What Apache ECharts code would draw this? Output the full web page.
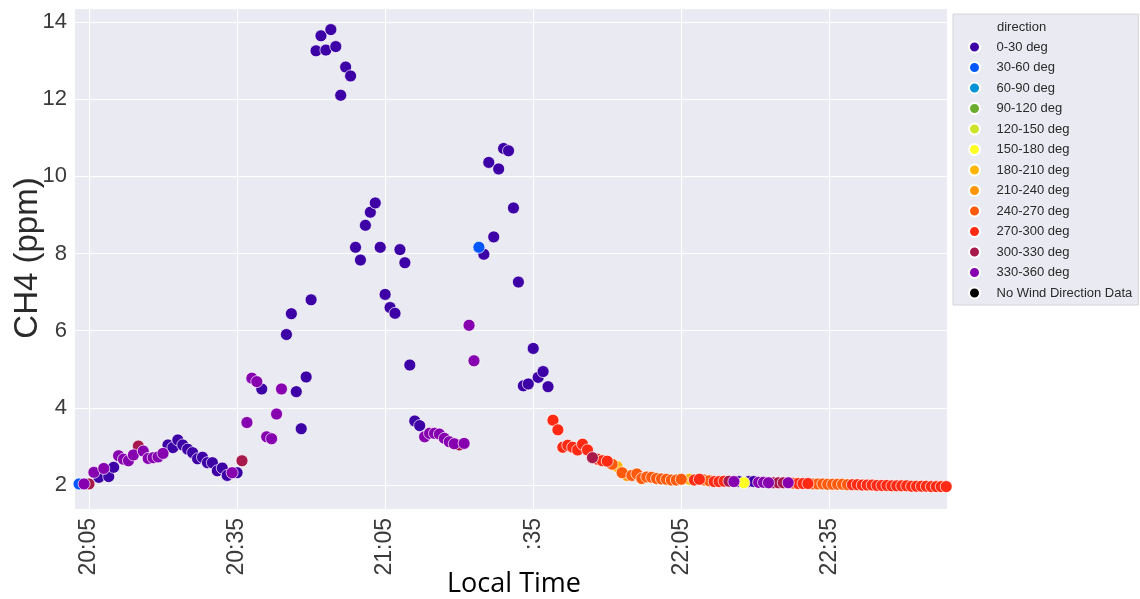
<!DOCTYPE html>
<html>
<head>
<meta charset="utf-8">
<title>CH4 vs Local Time</title>
<script src="https://cdn.jsdelivr.net/npm/echarts@6/dist/echarts.min.js"></script>
<style>
  html, body { margin: 0; padding: 0; background: #ffffff; }
  #chart { width: 1140px; height: 599px; }
</style>
</head>
<body>
<div id="chart"></div>
<script>
// Wind-direction classes (legend order) and their marker colours
const DIRECTIONS = ['0-30 deg', '30-60 deg', '60-90 deg', '90-120 deg', '120-150 deg',
  '150-180 deg', '180-210 deg', '210-240 deg', '240-270 deg', '270-300 deg',
  '300-330 deg', '330-360 deg', 'No Wind Direction Data'];
const DIR_COLORS = ['#3d00a6', '#0057ff', '#0093d6', '#6aad2e', '#cde32a',
  '#ffff24', '#ffb400', '#ff9500', '#ff5a0c', '#ff2914',
  '#a8194b', '#8600b0', '#000000'];

// Sample times (local), CH4 (ppm) and wind-direction class index
const TIMES = [
  '20:03','20:04','20:05','20:06','20:07','20:08','20:09','20:10','20:11','20:12',
  '20:13','20:14','20:15','20:16','20:17','20:18','20:19','20:20','20:21','20:22',
  '20:23','20:24','20:25','20:26','20:27','20:28','20:29','20:30','20:31','20:32',
  '20:33','20:34','20:35','20:36','20:37','20:38','20:39','20:40','20:41','20:42',
  '20:43','20:44','20:45','20:46','20:47','20:48','20:49','20:50','20:51','20:52',
  '20:53','20:54','20:55','20:56','20:57','20:58','20:59','21:00','21:01','21:02',
  '21:03','21:04','21:05','21:06','21:07','21:08','21:09','21:10','21:11','21:12',
  '21:13','21:14','21:15','21:16','21:17','21:18','21:19','21:20','21:21','21:22',
  '21:23','21:24','21:25','21:26','21:27','21:28','21:29','21:30','21:31','21:32',
  '21:33','21:34','21:35','21:36','21:37','21:38','21:39','21:40','21:41','21:42',
  '21:43','21:44','21:45','21:46','21:47','21:48','21:49','21:50','21:51','21:52',
  '21:53','21:54','21:55','21:56','21:57','21:58','21:59','22:00','22:01','22:02',
  '22:03','22:04','22:05','22:06:40','22:07:40','22:08:40','22:09:40','22:10:40','22:11:40','22:12:40',
  '22:13:40','22:14:40','22:15:40','22:16:40','22:17:40','22:18:40','22:19:40','22:20:40','22:21:40','22:22:40',
  '22:23:40','22:24:40','22:25:40','22:26:40','22:27:40','22:28:40','22:29:40','22:30:40','22:31:40','22:32:40',
  '22:33:40','22:34:40','22:35:40','22:36:40','22:37:40','22:38:40','22:39:40','22:40:40','22:41:40','22:42:40',
  '22:43:40','22:44:40','22:45:40','22:46:40','22:47:40','22:48:40','22:49:40','22:50:40','22:51:40','22:52:40',
  '22:53:40','22:54:40','22:55:40','22:56:40','22:57:40','22:58:40'
];
const CH4 = [
  2.03, 2.03, 2.03, 2.33, 2.20, 2.43, 2.22, 2.46, 2.76, 2.67,
  2.63, 2.78, 3.01, 2.88, 2.69, 2.71, 2.73, 2.82, 3.04, 2.97,
  3.17, 3.04, 2.93, 2.84, 2.68, 2.72, 2.58, 2.58, 2.37, 2.44,
  2.25, 2.32, 2.32, 2.63, 3.62, 4.77, 4.68, 4.49, 3.25, 3.20,
  3.84, 4.49, 5.90, 6.44, 4.42, 3.46, 4.80, 6.80, 13.25, 13.64,
  13.27, 13.80, 13.36, 12.10, 12.83, 12.60, 8.16, 7.83, 8.73, 9.07,
  9.31, 8.16, 6.94, 6.60, 6.45, 8.10, 7.76, 5.11, 3.66, 3.54,
  3.25, 3.34, 3.34, 3.32, 3.21, 3.12, 3.07, 3.04, 3.08, 6.14,
  5.22, 8.16, 7.98, 10.36, 8.43, 10.19, 10.72, 10.66, 9.18, 7.26,
  4.57, 4.62, 5.54, 4.79, 4.94, 4.55, 3.68, 3.43, 2.98, 3.03,
  2.98, 2.91, 3.06, 2.91, 2.71, 2.67, 2.63, 2.62, 2.54, 2.48,
  2.32, 2.25, 2.25, 2.29, 2.17, 2.21, 2.20, 2.17, 2.16, 2.15,
  2.13, 2.13, 2.15, 2.15, 2.13, 2.15, 2.13, 2.11, 2.09, 2.09,
  2.10, 2.10, 2.09, 2.09, 2.06, 2.09, 2.09, 2.07, 2.07, 2.06,
  2.06, 2.06, 2.06, 2.06, 2.05, 2.04, 2.04, 2.04, 2.03, 2.03,
  2.03, 2.02, 2.02, 2.02, 2.02, 2.01, 2.01, 2.01, 2.00, 2.00,
  2.00, 1.99, 1.99, 1.99, 1.98, 1.98, 1.98, 1.98, 1.97, 1.97,
  1.97, 1.97, 1.96, 1.96, 1.96, 1.96
];
const DIR_IDX = [
  1, 11, 10, 11, 0, 11, 0, 0, 11, 11,
  11, 11, 10, 11, 11, 11, 11, 11, 0, 0,
  0, 0, 0, 0, 0, 0, 0, 0, 0, 0,
  0, 11, 0, 10, 11, 11, 11, 0, 11, 11,
  11, 11, 0, 0, 0, 0, 0, 0, 0, 0,
  0, 0, 0, 0, 0, 0, 0, 0, 0, 0,
  0, 0, 0, 0, 0, 0, 0, 0, 0, 0,
  11, 11, 11, 11, 11, 11, 11, 10, 11, 11,
  11, 1, 0, 0, 0, 0, 0, 0, 0, 0,
  0, 0, 0, 0, 0, 0, 9, 9, 9, 9,
  9, 9, 9, 9, 10, 9, 9, 9, 8, 6,
  8, 7, 8, 8, 8, 8, 8, 8, 8, 8,
  8, 8, 8, 6, 9, 9, 8, 8, 9, 9,
  9, 10, 11, 0, 5, 0, 0, 11, 11, 11,
  10, 10, 10, 11, 8, 9, 9, 9, 8, 8,
  8, 8, 8, 8, 8, 8, 9, 9, 9, 9,
  9, 9, 9, 9, 9, 9, 9, 9, 9, 9,
  9, 9, 9, 9, 9, 9
];

// Axis ticks and ranges
const X_TICKS = ['20:05', '20:35', '21:05', '21:35', '22:05', '22:35'];
const X_RANGE = ['20:02:10', '22:58:50'];
const Y_RANGE = [1.38, 14.36];

// "HH:MM[:SS]" -> minutes after midnight
function toMinutes(s) {
  const p = s.split(':').map(Number);
  return p[0] * 60 + p[1] + (p.length > 2 ? p[2] / 60 : 0);
}
function fmtMinutes(v) {
  const h = Math.floor(v / 60);
  const m = Math.round(v - h * 60);
  return String(h).padStart(2, '0') + ':' + String(m).padStart(2, '0');
}

const tickValues = X_TICKS.map(toMinutes);
const LABEL_FONT = 'Liberation Sans, Arial, sans-serif';

// One scatter series per wind-direction class (drawn in legend order)
const series = DIRECTIONS.map(function (name, k) {
  const data = [];
  for (let i = 0; i < TIMES.length; i++) {
    if (DIR_IDX[i] === k) data.push([toMinutes(TIMES[i]), CH4[i]]);
  }
  return {
    name: name,
    type: 'scatter',
    data: data,
    symbol: 'circle',
    symbolSize: 12,
    itemStyle: { color: DIR_COLORS[k], borderColor: '#ffffff', borderWidth: 0.7, opacity: 1 },
    emphasis: { disabled: true }
  };
});

const chart = echarts.init(document.getElementById('chart'), null, { renderer: 'canvas' });
chart.setOption({
  animation: false,
  backgroundColor: '#ffffff',
  grid: {
    left: 75, right: 193, top: 8, bottom: 90,
    show: true, backgroundColor: '#eaeaf2', borderWidth: 0
  },
  xAxis: {
    type: 'value',
    min: toMinutes(X_RANGE[0]),
    max: toMinutes(X_RANGE[1]),
    axisLine: { show: false },
    axisTick: { show: false, customValues: tickValues },
    axisLabel: {
      customValues: tickValues,
      formatter: fmtMinutes,
      rotate: 90,
      margin: 9,
      fontSize: 23,
      fontFamily: LABEL_FONT,
      color: '#3a3a3a'
    },
    splitLine: { show: true, lineStyle: { color: '#ffffff', width: 1 } }
  },
  yAxis: {
    type: 'value',
    min: Y_RANGE[0],
    max: Y_RANGE[1],
    splitNumber: 6,
    axisLine: { show: false },
    axisTick: { show: false },
    axisLabel: {
      margin: 8,
      fontSize: 22,
      fontFamily: LABEL_FONT,
      color: '#3a3a3a',
      formatter: function (v) {
        const r = Math.round(v);
        return (Math.abs(v - r) < 1e-6 && r % 2 === 0) ? String(r) : '';
      }
    },
    splitLine: { show: true, lineStyle: { color: '#ffffff', width: 1 } }
  },
  legend: {
    orient: 'vertical',
    left: 953,
    top: 14,
    padding: [26, 6, 5, 15],
    itemWidth: 34,
    itemHeight: 11,
    itemGap: 6.5,
    icon: 'circle',
    backgroundColor: '#eaeaf2',
    borderColor: '#d4d4d8',
    borderWidth: 1,
    textStyle: { fontSize: 13, lineHeight: 14, fontFamily: LABEL_FONT, color: '#2a2a2a' },
    data: DIRECTIONS
  },
  graphic: [
    {
      type: 'text',
      left: 997, top: 21, z: 100,
      style: { text: 'direction', fontSize: 13, fontFamily: LABEL_FONT, fill: '#2a2a2a' }
    },
    {
      type: 'text',
      x: 28, y: 258, rotation: Math.PI / 2, z: 100,
      style: {
        text: 'CH4 (ppm)', fontSize: 33, fontFamily: LABEL_FONT, fill: '#2a2a2a',
        align: 'center', verticalAlign: 'middle'
      }
    },
    {
      type: 'rect', z: 100, zlevel: 1,
      shape: { x: 438, y: 549, width: 160, height: 50 },
      style: { fill: '#ffffff' }
    },
    {
      type: 'text', z: 101, zlevel: 1,
      x: 514, y: 584,
      style: {
        text: 'Local Time', fontSize: 27, fontFamily: 'Open Sans, Lato, sans-serif', fill: '#000000',
        align: 'center', verticalAlign: 'middle'
      }
    }
  ],
  series: series
});
</script>
</body>
</html>
